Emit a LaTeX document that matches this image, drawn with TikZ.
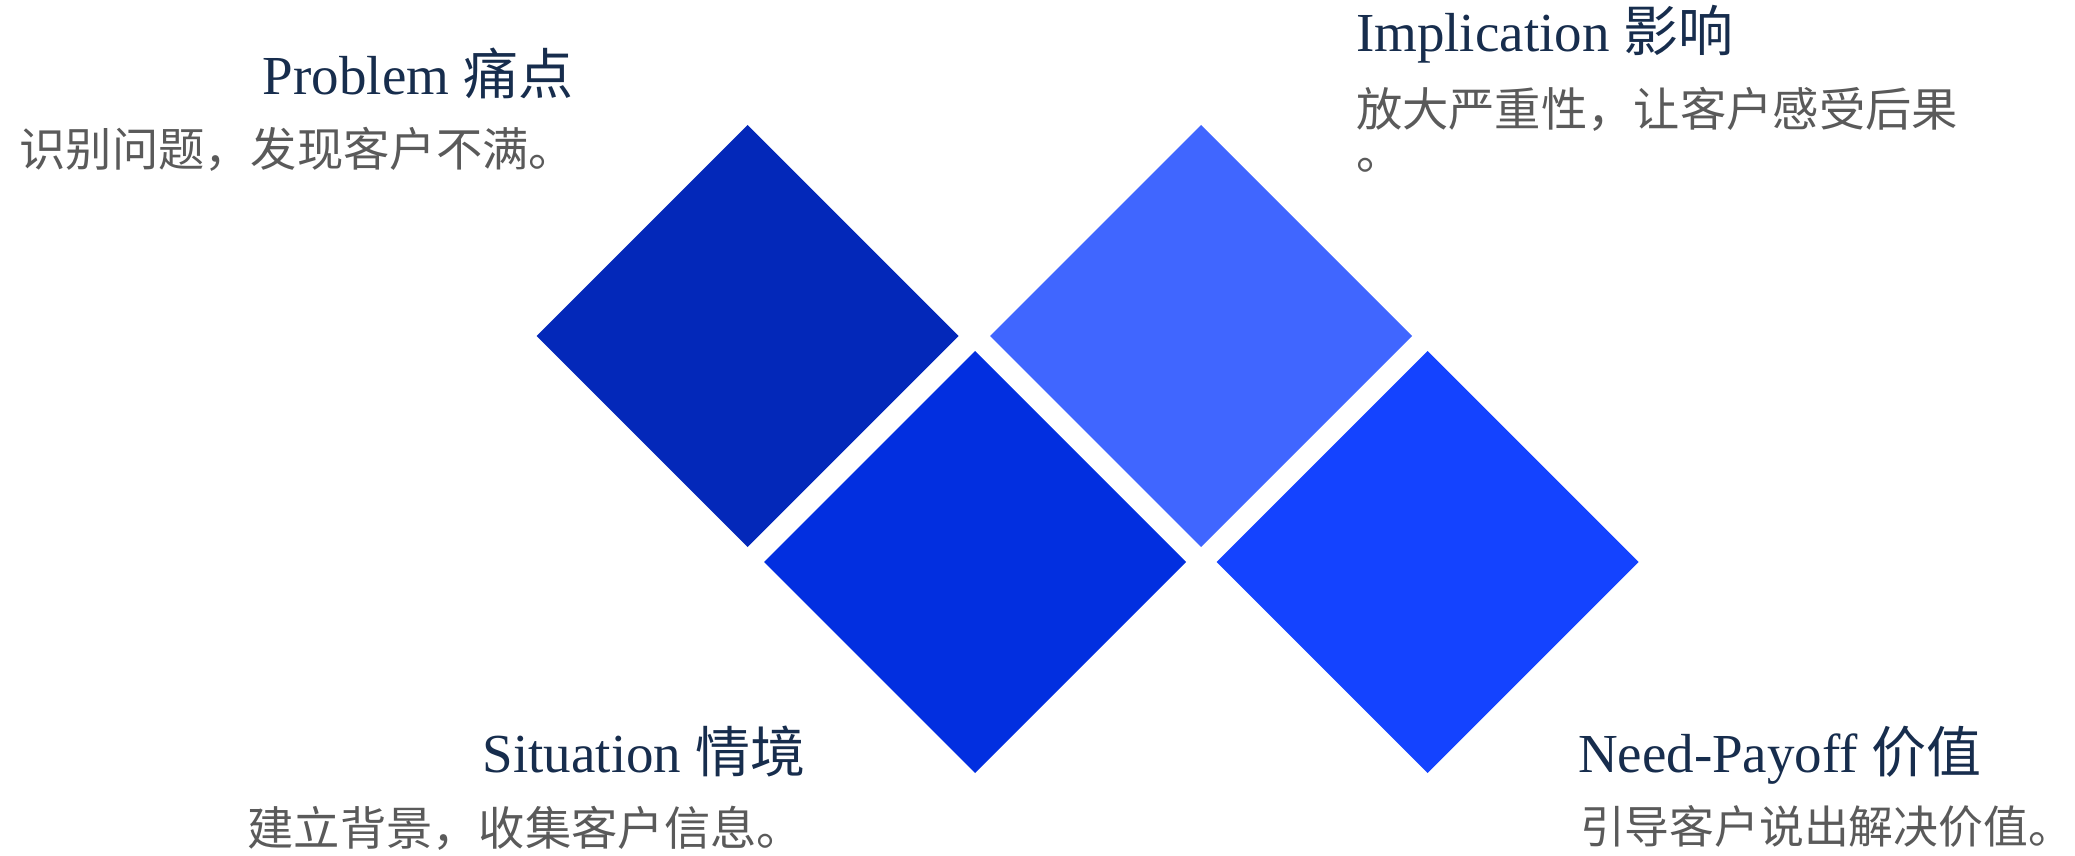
\documentclass[tikz,border=0pt]{standalone}
\usepackage{fontspec}
\setmainfont{Liberation Serif}
\newfontfamily\cjk{Noto Sans CJK SC}
\usetikzlibrary{shapes.geometric}
\definecolor{cP}{HTML}{0328B9}
\definecolor{cS}{HTML}{022FE0}
\definecolor{cI}{HTML}{4066FF}
\definecolor{cN}{HTML}{1443FF}
\definecolor{cT}{HTML}{172D4D}
\definecolor{cB}{HTML}{5A5A5A}
\begin{document}
\begin{tikzpicture}[x=1pt,y=-1pt,
  dia/.style={diamond, aspect=1, minimum width=422pt, minimum height=422pt, inner sep=0pt, outer sep=0pt, draw=none},
  ttl/.style={inner sep=0pt, outer sep=0pt, text=cT, font=\fontsize{55}{60}\selectfont},
  bodytxt/.style={inner sep=0pt, outer sep=0pt, text=cB, font=\cjk\fontsize{46.3}{50}\selectfont}]
\useasboundingbox (0,0) rectangle (2075,856);
\node[dia, fill=cP] (P) at (747.5,336) {};
\node[dia, fill=cI] (I) at (1201,336) {};
\node[dia, fill=cS] (S) at (975,562) {};
\node[dia, fill=cN] (N) at (1427.5,562) {};
\node[ttl, anchor=base east] (Pt) at (573,95) {Problem {\cjk 痛点}};
\node[bodytxt, anchor=base east] (Pb) at (575,166) {识别问题，发现客户不满。};
\node[ttl, anchor=base west] (It) at (1356,52) {Implication {\cjk 影响}};
\node[bodytxt, anchor=base west] (Ib) at (1356,127) {放大严重性，让客户感受后果};
\node[bodytxt, anchor=base west] (Ib2) at (1356,169) {。};
\node[ttl, anchor=base east] (St) at (805,772) {Situation {\cjk 情境}};
\node[bodytxt, anchor=base east] (Sb) at (803,845) {建立背景，收集客户信息。};
\node[ttl, anchor=base west] (Nt) at (1578,772) {Need-Payoff {\cjk 价值}};
\node[bodytxt, anchor=base west, font=\cjk\fontsize{44.8}{50}\selectfont] (Nb) at (1580,843) {引导客户说出解决价值。};
\end{tikzpicture}
\end{document}
